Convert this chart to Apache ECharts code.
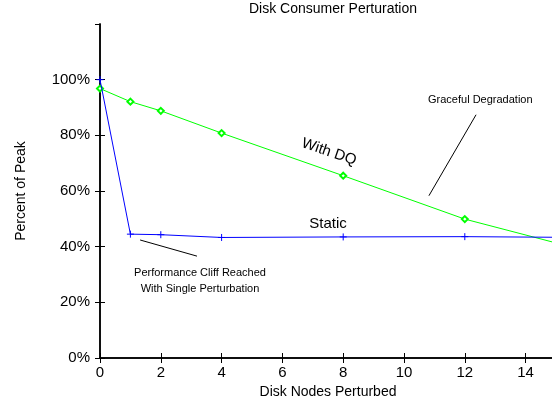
<!DOCTYPE html>
<html>
<head>
<meta charset="utf-8">
<script src="https://cdn.jsdelivr.net/npm/echarts@6/dist/echarts.min.js"></script>
<style>html,body{margin:0;padding:0;background:#fff}#c{width:552px;height:402px}</style>
</head>
<body>
<div id="c"></div>
<script>
var nodes = [0, 1, 2, 4, 8, 12, 16];
var withDQ = [96.8, 92.1, 88.8, 80.8, 65.5, 49.9, 38.5];
var staticVals = [100, 44.5, 44.3, 43.3, 43.5, 43.6, 43.3];
var xTicks = [0, 2, 4, 6, 8, 10, 12, 14];
var yTicks = [0, 20, 40, 60, 80, 100];

var FONT = 'Liberation Sans, Arial, Helvetica, sans-serif';
function pairs(xs, ys) { return xs.map(function (x, i) { return [x, ys[i]]; }); }

var chart = echarts.init(document.getElementById('c'), null, {renderer: 'canvas'});
var axisLine = {show: true, lineStyle: {color: '#000', width: 1.5}};
var tick = {show: true, inside: true, length: 5, lineStyle: {color: '#000', width: 1}};

chart.setOption({
  animation: false,
  backgroundColor: '#fff',
  title: {
    text: 'Disk Consumer Perturation',
    left: 328, top: -3, textAlign: 'center',
    textStyle: {fontFamily: FONT, fontSize: 14, fontWeight: 'normal', color: '#000'}
  },
  grid: {left: 100, top: 24, width: 456, height: 334, containLabel: false, outerBoundsMode: 'none'},
  xAxis: [{
    type: 'value', min: 0, max: 15, interval: 2, position: 'bottom',
    name: 'Disk Nodes Perturbed', nameLocation: 'middle', nameGap: 24,
    nameTextStyle: {fontFamily: FONT, fontSize: 14, color: '#000'},
    axisLine: axisLine, axisTick: tick, splitLine: {show: false},
    axisLabel: {fontFamily: FONT, fontSize: 15, color: '#000', margin: 7, showMaxLabel: false,
      formatter: function (v) { return xTicks.indexOf(v) >= 0 ? String(v) : ''; }}
  }, {
    type: 'value', min: 0, max: 15, interval: 2, position: 'top',
    axisLine: axisLine, axisTick: tick, splitLine: {show: false}, axisLabel: {show: false}
  }],
  yAxis: [{
    type: 'value', min: 0, max: 120, interval: 20, position: 'left',
    name: 'Percent of Peak', nameLocation: 'middle', nameGap: 72, nameRotate: 90,
    nameTextStyle: {fontFamily: FONT, fontSize: 14, color: '#000'},
    axisLine: axisLine, axisTick: tick, splitLine: {show: false},
    axisLabel: {fontFamily: FONT, fontSize: 15, color: '#000', margin: 10, showMaxLabel: false,
      formatter: function (v) { return yTicks.indexOf(v) >= 0 ? v + '%' : ''; }}
  }, {
    type: 'value', min: 0, max: 120, interval: 20, position: 'right',
    axisLine: axisLine, axisTick: tick, splitLine: {show: false}, axisLabel: {show: false}
  }],
  series: [{
    name: 'With DQ', type: 'line', data: pairs(nodes, withDQ),
    symbol: 'emptyDiamond', symbolSize: 6, showAllSymbol: true,
    lineStyle: {color: '#00ff00', width: 1},
    itemStyle: {color: '#00ff00', borderColor: '#00ff00', borderWidth: 1},
    z: 3,
    markLine: {
      silent: true, symbol: ['none', 'none'], label: {show: false},
      lineStyle: {color: '#000', width: 1, type: 'solid'},
      data: [
        [{coord: [12.37, 87.4]}, {coord: [10.82, 58.3]}],
        [{coord: [1.32, 42.4]}, {coord: [3.19, 36.6]}]
      ]
    }
  }, {
    name: 'Static', type: 'line', data: pairs(nodes, staticVals),
    symbol: 'path://M0,5L10,5M5,0L5,10', symbolSize: 7, showAllSymbol: true,
    lineStyle: {color: '#0000ff', width: 1},
    itemStyle: {color: '#0000ff', borderColor: '#0000ff', borderWidth: 1},
    z: 4
  }],
  graphic: [
    {type: 'text', left: 428, top: 94, style: {text: 'Graceful Degradation', font: '11px ' + FONT, fill: '#000'}},
    {type: 'text', x: 329, y: 152, rotation: -0.33,
      style: {text: 'With DQ', font: '15px ' + FONT, fill: '#000', align: 'center', verticalAlign: 'middle'}},
    {type: 'text', x: 328, y: 224,
      style: {text: 'Static', font: '15px ' + FONT, fill: '#000', align: 'center', verticalAlign: 'middle'}},
    {type: 'text', x: 200, y: 273,
      style: {text: 'Performance Cliff Reached', font: '11px ' + FONT, fill: '#000', align: 'center', verticalAlign: 'middle'}},
    {type: 'text', x: 200, y: 289,
      style: {text: 'With Single Perturbation', font: '11px ' + FONT, fill: '#000', align: 'center', verticalAlign: 'middle'}}
  ]
});
</script>
</body>
</html>
